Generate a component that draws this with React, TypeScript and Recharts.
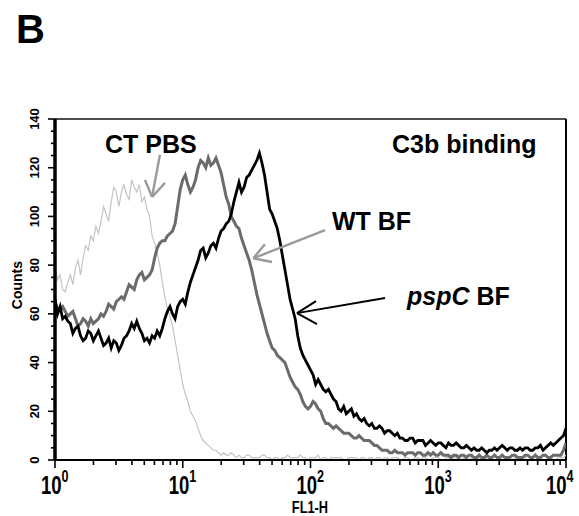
import React from 'react';
import { LineChart, Line, XAxis, YAxis, ReferenceLine, ReferenceDot } from 'recharts';

// channel positions on the log FL1-H axis (decades 0..4, 201 bins)
const channelLog: number[] = Array.from({ length: 201 }, (_, i) => i * 0.02);

const ctPbs: number[] = [
  80, 74, 76, 70, 69, 73, 76, 72, 79, 82, 76, 83, 88, 86, 92, 90, 96, 93, 98, 104,
  101, 98, 106, 112, 110, 104, 110, 113, 109, 107, 115, 112, 110, 113, 106, 108, 103, 100, 92, 89,
  85, 80, 73, 67, 62, 59, 55, 49, 43, 37, 31, 27, 24, 20, 18, 16, 13, 10, 8, 7,
  6, 5, 4, 4, 3, 2, 3, 2, 2, 3, 2, 1, 2, 1, 1, 2, 2, 1, 1, 1,
  1, 2, 2, 1, 1, 0, 1, 1, 0, 1, 1, 2, 1, 1, 1, 1, 2, 1, 1, 0,
  1, 1, 1, 2, 0, 1, 1, 0, 1, 1, 1, 1, 1, 0, 0, 1, 1, 1, 1, 0,
  1, 1, 0, 1, 1, 0, 1, 1, 0, 1, 1, 0, 1, 1, 1, 0, 0, 1, 1, 0,
  0, 1, 1, 0, 1, 1, 0, 0, 1, 1, 1, 0, 0, 1, 1, 0, 1, 1, 0, 0,
  1, 0, 0, 1, 0, 0, 1, 0, 0, 1, 1, 0, 0, 0, 1, 0, 0, 1, 0, 0,
  1, 0, 0, 1, 1, 0, 0, 0, 0, 1, 1, 0, 0, 0, 1, 0, 0, 1, 1, 1,
  2,
];

const wtBf: number[] = [
  65, 62, 62, 63, 61, 59, 60, 61, 58, 55, 56, 58, 57, 55, 58, 56, 57, 58, 60, 59,
  61, 64, 63, 62, 65, 66, 67, 66, 69, 72, 71, 70, 74, 76, 77, 74, 75, 76, 78, 83,
  87, 89, 90, 90, 92, 93, 94, 97, 104, 111, 115, 117, 113, 110, 112, 115, 120, 123, 122, 120,
  124, 121, 122, 124, 121, 118, 113, 108, 105, 100, 98, 96, 95, 91, 88, 85, 82, 78, 73, 68,
  64, 60, 56, 52, 49, 46, 45, 43, 42, 41, 40, 37, 34, 32, 30, 29, 27, 24, 22, 21,
  22, 24, 23, 21, 20, 17, 15, 15, 14, 13, 14, 13, 12, 11, 11, 11, 10, 9, 9, 10,
  9, 8, 8, 8, 7, 6, 6, 5, 4, 4, 4, 3, 3, 4, 3, 3, 3, 2, 3, 3,
  3, 2, 3, 3, 2, 2, 3, 2, 3, 2, 2, 3, 2, 2, 2, 1, 2, 2, 1, 2,
  2, 1, 2, 2, 1, 1, 2, 1, 1, 2, 1, 1, 2, 1, 1, 2, 1, 1, 1, 2,
  2, 1, 1, 1, 2, 2, 1, 1, 2, 1, 1, 2, 2, 1, 1, 2, 2, 2, 2, 4,
  7,
];

const pspcBf: number[] = [
  66, 60, 63, 58, 59, 57, 56, 52, 54, 55, 51, 49, 50, 53, 52, 49, 51, 53, 50, 47,
  48, 50, 46, 49, 48, 45, 47, 50, 51, 53, 56, 54, 57, 54, 52, 49, 50, 48, 51, 50,
  53, 51, 54, 58, 61, 63, 60, 58, 63, 65, 66, 64, 69, 73, 76, 79, 82, 86, 87, 83,
  85, 88, 89, 87, 91, 94, 95, 97, 98, 101, 106, 110, 114, 110, 112, 116, 117, 119, 121, 123,
  126, 122, 117, 110, 103, 101, 98, 95, 90, 84, 78, 72, 66, 62, 58, 51, 46, 43, 41, 39,
  37, 35, 31, 33, 31, 29, 28, 29, 27, 25, 24, 21, 20, 22, 19, 20, 21, 18, 19, 17,
  16, 17, 15, 14, 15, 13, 13, 14, 13, 11, 12, 12, 11, 10, 11, 9, 9, 8, 8, 9,
  9, 7, 8, 8, 8, 6, 7, 8, 7, 6, 7, 7, 6, 5, 7, 6, 6, 7, 6, 5,
  5, 6, 5, 4, 5, 4, 4, 5, 4, 3, 4, 4, 5, 4, 5, 6, 5, 4, 5, 5,
  4, 4, 5, 4, 5, 5, 4, 4, 5, 5, 6, 4, 5, 6, 7, 6, 7, 8, 9, 10,
  13,
];

const xTicks: number[] = [
  1, 2, 3, 4, 5, 6, 7, 8, 9,
  10, 20, 30, 40, 50, 60, 70, 80, 90,
  100, 200, 300, 400, 500, 600, 700, 800, 900,
  1000, 2000, 3000, 4000, 5000, 6000, 7000, 8000, 9000,
  10000,
];
const yTicks: number[] = [0, 5, 10, 15, 20, 25, 30, 35, 40, 45, 50, 55, 60, 65, 70, 75, 80, 85, 90, 95, 100, 105, 110, 115, 120, 125, 130, 135, 140];

const data = channelLog.map((l, i) => ({
  fl: Math.pow(10, l),
  ct: ctPbs[i],
  wt: wtBf[i],
  pspc: pspcBf[i],
}));

const SANS = '"Liberation Sans", Arial, sans-serif';

const XTick = (props: any) => {
  const { x, y, payload } = props;
  const v = payload.value as number;
  const lg = Math.log10(v);
  const exp = Math.round(lg);
  const major = Math.abs(lg - exp) < 1e-6;
  const left = exp === 4 ? x - 20 : x - 14;
  return (
    <g>
      <line x1={x} y1={y} x2={x} y2={y + (major ? 8 : 5)} stroke="#000" strokeWidth={1.6} />
      {major && (
        <g transform={`translate(${left} ${y + 34}) scale(0.74 1)`}>
          <text x={0} y={0} fontFamily={SANS} fontWeight="bold" fontSize={25} fill="#000">
            10<tspan dy={-12} fontSize={17}>{exp}</tspan>
          </text>
        </g>
      )}
    </g>
  );
};

const YTick = (props: any) => {
  const { x, y, payload } = props;
  const v = payload.value as number;
  const major = v % 20 === 0;
  const bx = x - 16;
  return (
    <g>
      <line x1={x - (major ? 7 : 4)} y1={y} x2={x} y2={y} stroke="#000" strokeWidth={1.6} />
      {major && (
        <text x={bx} y={y} transform={`rotate(-90 ${bx} ${y})`} textAnchor="middle"
          fontFamily={SANS} fontWeight="bold" fontSize={13} fill="#000">{v}</text>
      )}
    </g>
  );
};

const note = (content: React.ReactNode, opts: any = {}) => (p: any) => (
  <text x={p.cx} y={p.cy} fontFamily={SANS} fontWeight="bold" fontSize={25} fill="#000" {...opts}>
    {content}
  </text>
);

export default function App() {
  return (
    <div style={{ position: 'absolute', left: 0, top: 0, background: '#fff' }}>
      <LineChart width={579} height={516} data={data} margin={{ top: 119, right: 13, bottom: 0, left: 0 }}>
        <XAxis
          dataKey="fl"
          type="number"
          scale="log"
          domain={[1, 10000]}
          ticks={xTicks}
          interval={0}
          tick={<XTick />}
          tickLine={false}
          tickSize={0}
          tickMargin={0}
          height={56}
          axisLine={{ stroke: '#000', strokeWidth: 2 }}
          allowDataOverflow
        />
        <YAxis
          type="number"
          domain={[0, 140]}
          ticks={yTicks}
          interval={0}
          tick={<YTick />}
          tickLine={false}
          tickSize={0}
          tickMargin={0}
          width={55}
          axisLine={{ stroke: '#000', strokeWidth: 3.5 }}
        />
        <ReferenceLine y={140} stroke="#111" strokeWidth={1.6} ifOverflow="visible" />
        <ReferenceLine x={10000} stroke="#000" strokeWidth={2} ifOverflow="visible" />

        <Line dataKey="ct" stroke="#c4c4c4" strokeWidth={1.2} dot={false} activeDot={false} isAnimationActive={false} />
        <Line dataKey="wt" stroke="#6b6b6b" strokeWidth={3} dot={false} activeDot={false} isAnimationActive={false} />
        <Line dataKey="pspc" stroke="#000" strokeWidth={2.8} dot={false} activeDot={false} isAnimationActive={false} />

        {/* CT PBS arrow */}
        <ReferenceLine segment={[{ x: 6.63, y: 125.3 }, { x: 5.75, y: 108 }]} stroke="#9a9a9a" strokeWidth={2.4} ifOverflow="visible" />
        <ReferenceLine segment={[{ x: 5.06, y: 115 }, { x: 5.75, y: 108 }]} stroke="#9a9a9a" strokeWidth={2.4} ifOverflow="visible" />
        <ReferenceLine segment={[{ x: 7.26, y: 113.8 }, { x: 5.75, y: 108 }]} stroke="#9a9a9a" strokeWidth={2.4} ifOverflow="visible" />
        {/* WT BF arrow */}
        <ReferenceLine segment={[{ x: 129.9, y: 94.4 }, { x: 35.67, y: 82.8 }]} stroke="#9a9a9a" strokeWidth={2.4} ifOverflow="visible" />
        <ReferenceLine segment={[{ x: 44.0, y: 88.6 }, { x: 35.67, y: 82.8 }]} stroke="#9a9a9a" strokeWidth={2.4} ifOverflow="visible" />
        <ReferenceLine segment={[{ x: 50.0, y: 81.3 }, { x: 35.67, y: 82.8 }]} stroke="#9a9a9a" strokeWidth={2.4} ifOverflow="visible" />
        {/* pspC BF arrow */}
        <ReferenceLine segment={[{ x: 383, y: 66.5 }, { x: 78.4, y: 60.3 }]} stroke="#000" strokeWidth={2} ifOverflow="visible" />
        <ReferenceLine segment={[{ x: 110.5, y: 65.2 }, { x: 78.4, y: 60.3 }]} stroke="#000" strokeWidth={2} ifOverflow="visible" />
        <ReferenceLine segment={[{ x: 112.4, y: 55.8 }, { x: 78.4, y: 60.3 }]} stroke="#000" strokeWidth={2} ifOverflow="visible" />

        <ReferenceDot x={2.46} y={126.1} ifOverflow="visible" shape={note('CT PBS')} />
        <ReferenceDot x={434.5} y={126.1} ifOverflow="visible" shape={note('C3b binding')} />
        <ReferenceDot x={147.3} y={94.4} ifOverflow="visible" shape={note('WT BF')} />
        <ReferenceDot x={569} y={63.6} ifOverflow="visible" shape={note(<><tspan fontStyle="italic">pspC</tspan><tspan> BF</tspan></>)} />
        <ReferenceDot x={0.495} y={171.4} ifOverflow="visible" shape={note('B', { fontSize: 40 })} />
        <ReferenceDot x={99} y={-21.6} ifOverflow="visible"
          shape={(p: any) => (
            <g transform={`translate(${p.cx} ${p.cy}) scale(0.8 1)`}>
              <text x={0} y={0} textAnchor="middle" fontFamily={SANS} fontWeight="bold" fontSize={16} fill="#000">FL1-H</text>
            </g>
          )} />
        <ReferenceDot x={0.552} y={71.8} ifOverflow="visible"
          shape={(p: any) => (
            <text x={p.cx} y={p.cy} transform={`rotate(-90 ${p.cx} ${p.cy})`} textAnchor="middle"
              fontFamily={SANS} fontWeight="bold" fontSize={14} fill="#000">Counts</text>
          )} />
      </LineChart>
    </div>
  );
}
